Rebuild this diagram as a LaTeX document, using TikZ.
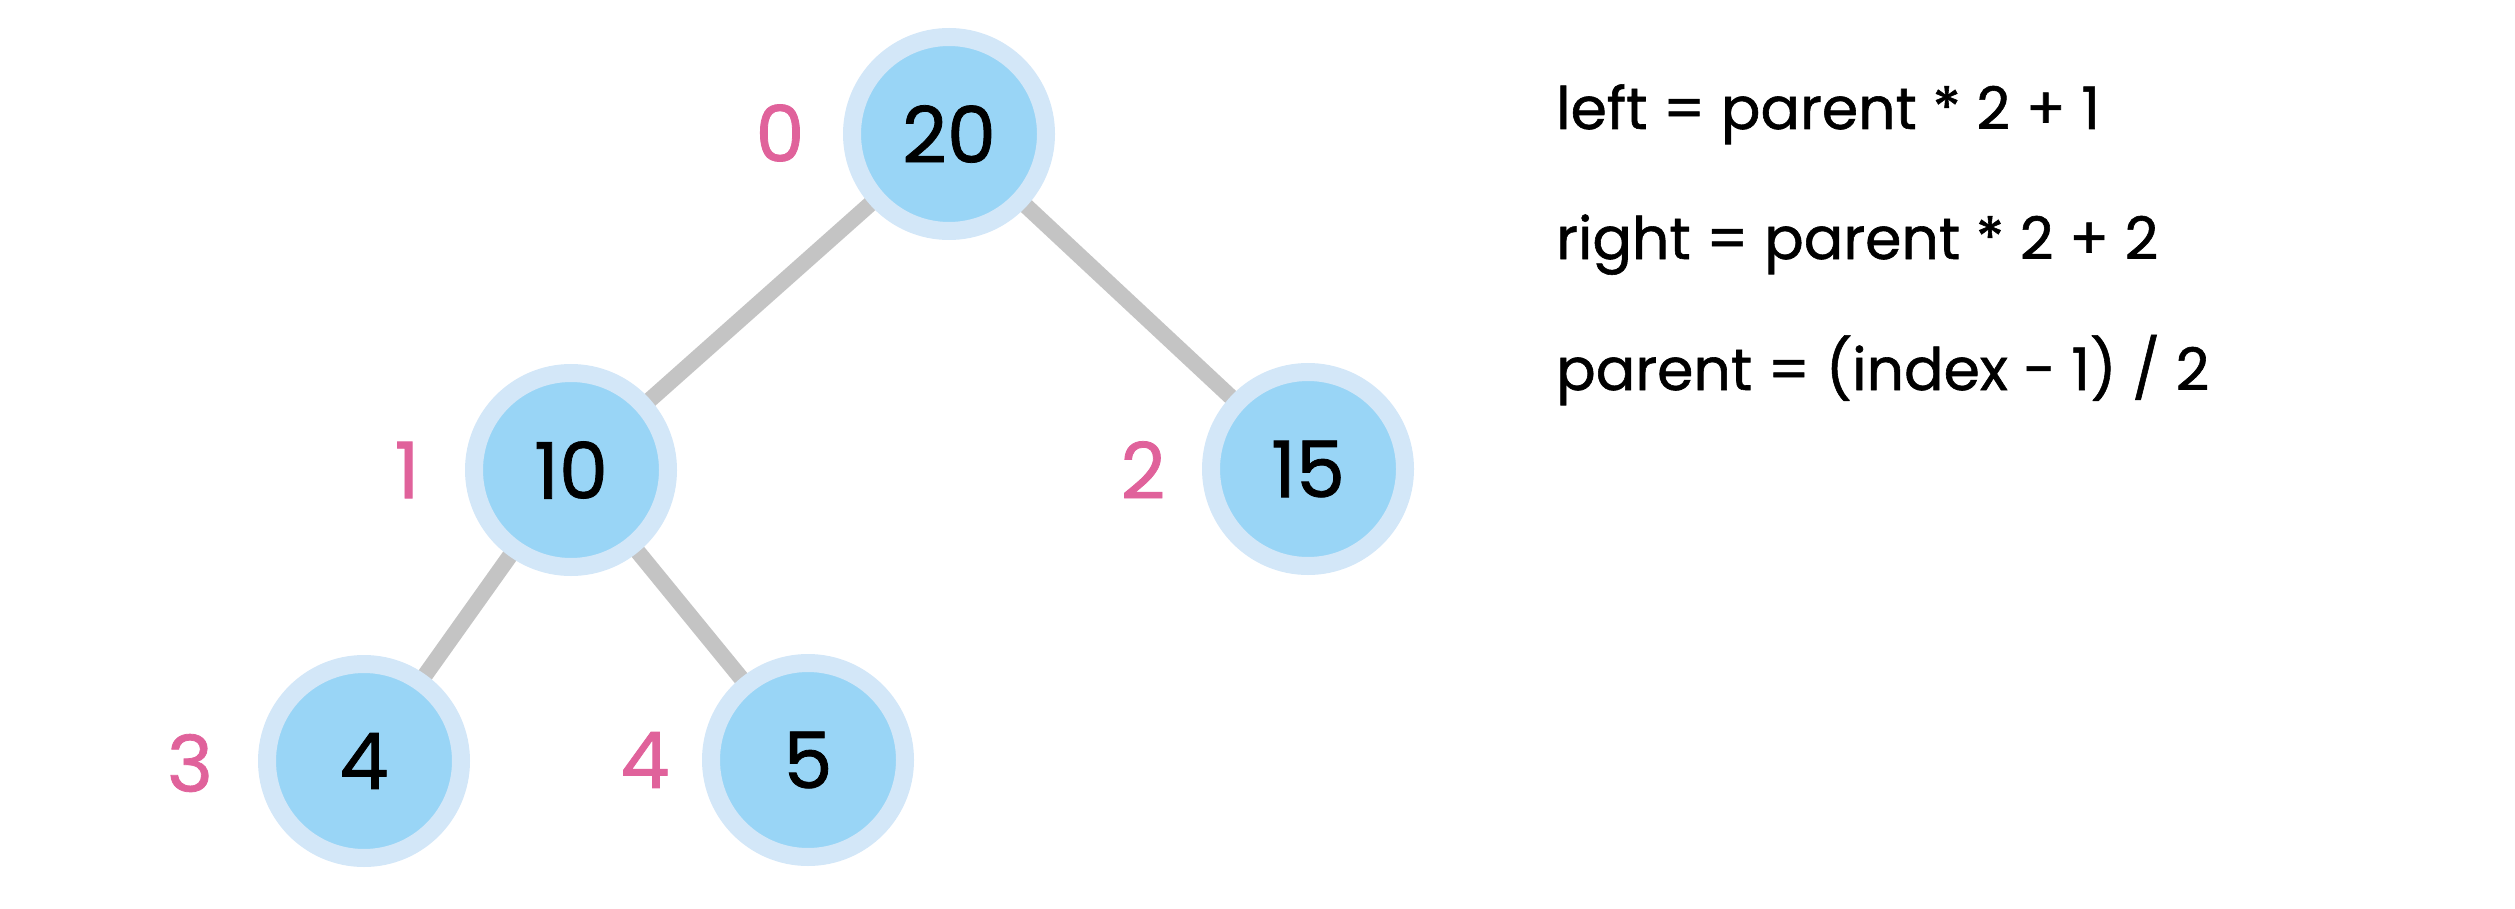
\documentclass[tikz,border=0pt]{standalone}
\usepackage{fontspec}
\setmainfont{Poppins}[FakeBold=1]
\usetikzlibrary{backgrounds}

\definecolor{nodefill}{HTML}{99D5F6}
\definecolor{nodering}{HTML}{D3E7F8}
\definecolor{edgegray}{HTML}{C4C4C4}
\definecolor{idxpink}{HTML}{E0629B}

\tikzset{
  heapnode/.style={circle, fill=nodefill, draw=nodering, line width=18pt,
    minimum size=194pt, inner sep=0pt, outer sep=0pt,
    font=\fontsize{78}{90}\selectfont, text=black},
  idxlabel/.style={inner sep=0pt, font=\fontsize{78}{90}\selectfont, text=idxpink},
  formula/.style={inner sep=0pt, anchor=base west, font=\fontsize{58.5}{68}\selectfont, text=black},
  treeedge/.style={draw=edgegray, line width=16pt}
}

\begin{document}
\begin{tikzpicture}[x=1pt, y=-1pt]
  \useasboundingbox (0,0) rectangle (2515,909);

  % heap nodes
  \node[heapnode] (n0) at (949,134) {20};
  \node[heapnode] (n1) at (571,470) {10};
  \node[heapnode] (n2) at (1308,469) {15};
  \node[heapnode] (n3) at (364,761) {4};
  \node[heapnode] (n4) at (808,760) {5};

  % array indices
  \node[idxlabel] (i0) at (780,133) {0};
  \node[idxlabel] (i1) at (407,470) {1};
  \node[idxlabel] (i2) at (1143,470) {2};
  \node[idxlabel] (i3) at (190,763) {3};
  \node[idxlabel] (i4) at (645,760) {4};

  % tree edges behind the nodes
  \begin{scope}[on background layer]
    \draw[treeedge] (n0.center) -- (n1.center);
    \draw[treeedge] (n0.center) -- (n2.center);
    \draw[treeedge] (n1.center) -- (n3.center);
    \draw[treeedge] (n1.center) -- (n4.center);
  \end{scope}

  % index formulas
  \node[formula] (f1) at (1556,129) {left = parent * 2 + 1};
  \node[formula] (f2) at (1556,259) {right = parent * 2 + 2};
  \node[formula] (f3) at (1556,390) {parent = (index - 1) / 2};
\end{tikzpicture}
\end{document}
